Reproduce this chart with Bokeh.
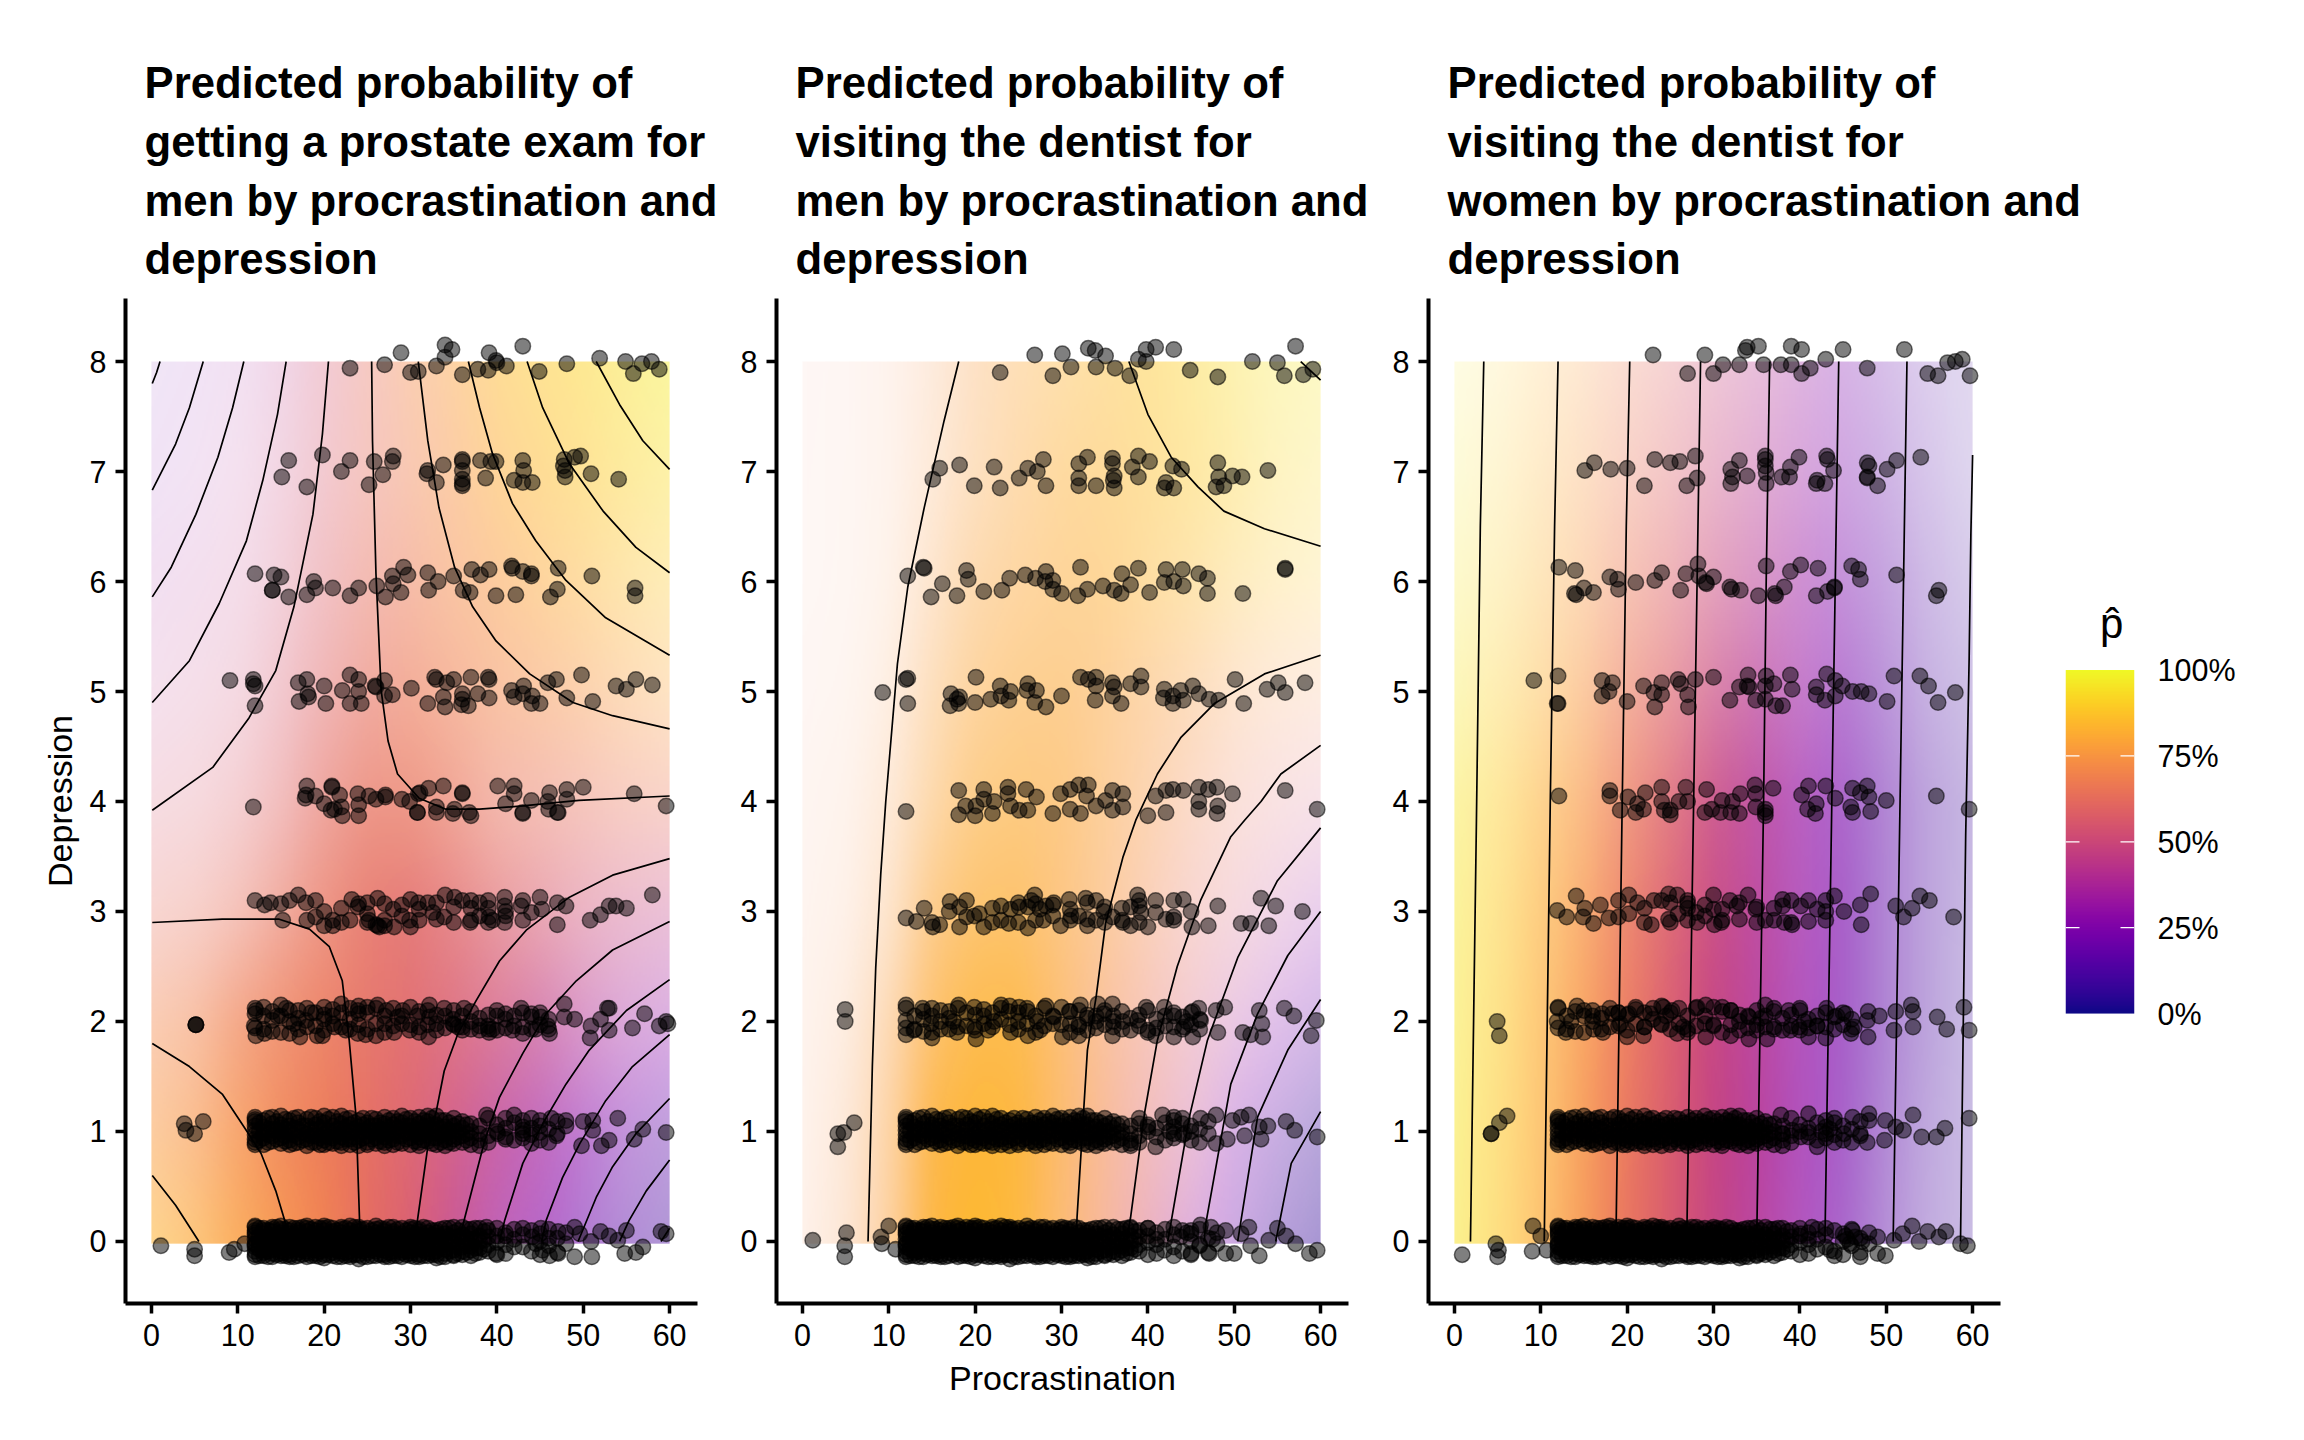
from bokeh.plotting import figure
from bokeh.layouts import row
from bokeh.models import Range1d, FixedTicker, Label, LinearColorMapper, Title
from bokeh.palettes import Plasma256
from bokeh.embed import file_html
from bokeh.resources import INLINE
import numpy as np

GRID_X = [0, 5, 10, 15, 20, 25, 30, 35, 40, 45, 50, 55, 60]
GRID_Y = [8, 7, 6, 5, 4, 3, 2, 1, 0]
TICK_X = [0, 10, 20, 30, 40, 50, 60]
TICK_Y = [0, 1, 2, 3, 4, 5, 6, 7, 8]
LEGEND_TICKS = {0: "0%", 0.25: "25%", 0.5: "50%", 0.75: "75%", 1: "100%"}

TITLES = [
    ["Predicted probability of", "getting a prostate exam for", "men by procrastination and", "depression"],
    ["Predicted probability of", "visiting the dentist for", "men by procrastination and", "depression"],
    ["Predicted probability of", "visiting the dentist for", "women by procrastination and", "depression"],
]

# ---- predicted probability (rows y=8..0, columns x=0..60) ----
prostate_p = [
 [.20,.26,.35,.44,.54,.63,.72,.78,.85,.88,.91,.94,.97],
 [.26,.33,.41,.49,.56,.63,.69,.75,.81,.85,.88,.91,.935],
 [.35,.40,.46,.53,.58,.63,.67,.72,.76,.80,.83,.86,.885],
 [.44,.48,.52,.56,.60,.63,.66,.68,.71,.73,.75,.77,.79],
 [.54,.56,.58,.60,.62,.635,.64,.64,.64,.64,.64,.65,.65],
 [.63,.635,.64,.64,.64,.62,.60,.59,.58,.55,.52,.49,.46],
 [.71,.70,.685,.67,.655,.62,.59,.555,.51,.45,.40,.35,.30],
 [.76,.745,.73,.69,.665,.62,.57,.50,.42,.35,.27,.21,.15],
 [.83,.80,.77,.735,.69,.62,.56,.46,.365,.285,.20,.145,.105],
]
prostate_alpha = [
 [.10,.11,.13,.20,.30,.37,.42,.46,.50,.50,.50,.47,.45],
 [.11,.12,.14,.22,.32,.39,.43,.47,.50,.50,.48,.44,.40],
 [.14,.15,.17,.26,.38,.47,.50,.50,.50,.48,.44,.38,.33],
 [.15,.17,.21,.33,.47,.58,.60,.55,.50,.47,.42,.36,.30],
 [.20,.22,.29,.42,.60,.72,.72,.62,.50,.45,.40,.35,.32],
 [.28,.32,.42,.58,.74,.85,.85,.75,.62,.52,.42,.36,.32],
 [.42,.50,.68,.80,.88,.90,.90,.82,.72,.62,.48,.38,.33],
 [.50,.60,.78,.90,.96,.96,.92,.85,.75,.65,.52,.42,.38],
 [.55,.65,.82,.92,.98,.98,.95,.85,.70,.62,.52,.45,.42],
]
dentist_men_p = [
 [.65,.68,.71,.74,.77,.80,.83,.85,.88,.91,.93,.95,.96],
 [.66,.69,.72,.76,.78,.80,.82,.835,.86,.885,.905,.92,.93],
 [.67,.70,.74,.77,.79,.80,.81,.82,.835,.85,.865,.88,.89],
 [.68,.71,.75,.785,.80,.805,.80,.79,.78,.77,.76,.745,.73],
 [.69,.72,.76,.795,.81,.81,.80,.785,.755,.71,.665,.59,.52],
 [.70,.73,.77,.80,.815,.815,.79,.765,.71,.635,.55,.42,.30],
 [.71,.74,.775,.81,.825,.825,.79,.725,.655,.55,.39,.26,.17],
 [.72,.745,.785,.82,.835,.83,.79,.71,.60,.46,.25,.14,.07],
 [.72,.745,.785,.825,.845,.835,.785,.69,.54,.35,.19,.10,.06],
]
dentist_men_alpha = [
 [.06,.07,.10,.18,.30,.36,.40,.44,.46,.42,.36,.30,.27],
 [.06,.07,.10,.20,.32,.40,.46,.48,.46,.42,.36,.28,.24],
 [.06,.07,.11,.26,.40,.46,.50,.50,.44,.38,.30,.24,.20],
 [.07,.08,.15,.34,.48,.54,.55,.50,.42,.34,.25,.19,.16],
 [.08,.10,.20,.42,.58,.62,.60,.50,.40,.30,.22,.18,.16],
 [.09,.12,.26,.58,.70,.72,.62,.50,.38,.28,.22,.20,.20],
 [.10,.16,.38,.72,.85,.85,.68,.52,.40,.30,.25,.25,.27],
 [.11,.20,.45,.88,.95,.92,.72,.55,.42,.32,.30,.32,.35],
 [.12,.22,.48,.92,.98,.92,.70,.55,.44,.35,.33,.38,.42],
]
dentist_women_p = [
 [.965,.90,.835,.76,.665,.585,.495,.42,.335,.235,.175,.13,.09],
 [.963,.90,.83,.755,.66,.58,.49,.415,.33,.235,.17,.125,.09],
 [.96,.90,.83,.75,.66,.58,.49,.415,.33,.23,.17,.125,.09],
 [.958,.895,.825,.75,.655,.575,.485,.41,.325,.23,.17,.12,.085],
 [.955,.895,.82,.745,.655,.57,.48,.405,.32,.225,.165,.12,.085],
 [.953,.89,.815,.74,.65,.565,.48,.405,.32,.225,.165,.12,.085],
 [.952,.89,.81,.74,.65,.56,.475,.40,.315,.22,.16,.115,.08],
 [.95,.885,.81,.735,.645,.56,.47,.40,.31,.22,.16,.115,.08],
 [.95,.885,.805,.73,.64,.555,.47,.395,.31,.215,.155,.115,.08],
]
dentist_women_alpha = [
 [.13,.15,.20,.23,.26,.28,.30,.31,.32,.30,.25,.19,.15],
 [.18,.20,.26,.30,.33,.36,.38,.39,.38,.35,.30,.22,.17],
 [.24,.26,.33,.38,.44,.47,.50,.50,.48,.43,.36,.27,.21],
 [.32,.35,.42,.50,.58,.62,.66,.66,.56,.52,.42,.31,.25],
 [.42,.45,.55,.64,.74,.80,.85,.80,.67,.60,.48,.36,.29],
 [.46,.50,.62,.74,.85,.90,.92,.84,.69,.63,.48,.36,.28],
 [.48,.54,.66,.82,.92,.95,.96,.86,.71,.63,.48,.36,.27],
 [.50,.56,.68,.86,.95,.97,.97,.88,.72,.62,.46,.34,.27],
 [.52,.58,.70,.88,.96,.97,.96,.86,.70,.60,.44,.33,.27],
]

# ---- contour lines: (procrastination, depression) ----
prostate_contours = [
 [(1,8),(.6,7.9),(.1,7.8)],
 [(6,8),(4.4,7.58),(2.8,7.25),(.1,6.83)],
 [(10.7,8),(9.4,7.58),(7.7,7.13),(5.15,6.61),(2.3,6.13),(.1,5.86)],
 [(15.6,8),(14.6,7.52),(12.9,6.92),(11,6.37),(7.85,5.8),(4.4,5.28),(.1,4.9)],
 [(20.5,8),(19.8,7.34),(18.7,6.61),(16.5,5.77),(14.4,5.19),(11.3,4.76),(7.1,4.31),(.1,3.92)],
 [(25.5,8),(25.6,7.28),(26,6.07),(26.6,5.01),(27.4,4.55),(28.5,4.25),(31,4.03),(34.1,3.93),(38,3.93),(43,3.96),(49.5,4.01),(60,4.05)],
 [(30.9,8),(32,7.28),(33.3,6.67),(35.1,6.13),(37.2,5.77),(39.9,5.46),(43.8,5.16),(48.8,4.9),(53.4,4.78),(60,4.66)],
 [(36.7,8),(38,7.58),(39.5,7.16),(41.8,6.71),(44.5,6.37),(48,6.01),(52.6,5.67),(60,5.33)],
 [(43.5,8),(45.3,7.58),(48.4,7.07),(52.3,6.64),(56.1,6.31),(60,6.08)],
 [(51.5,8),(54.2,7.61),(56.9,7.28),(60,7.02)],
 [(.1,2.9),(8.2,2.93),(14.8,2.93),(18.3,2.84),(20.6,2.68),(22.1,2.37),(22.9,1.83),(23.7,1.13),(24.1,.19),(24.2,0)],
 [(.1,1.8),(4.4,1.59),(8.2,1.34),(10.9,1.02),(12.7,.8),(14.4,.46),(15.4,.2),(16,0)],
 [(.1,.6),(2.8,.33),(5.5,0)],
 [(60,3.48),(53.4,3.33),(48.4,3.13),(43.4,2.83),(40.3,2.55),(37.6,2.19),(35.5,1.89),(33.9,1.55),(33,1.19),(32,.86),(30.8,.19),(30.5,0)],
 [(60,2.91),(53.4,2.65),(49.2,2.37),(45.7,2.07),(43,1.71),(40.3,1.31),(38.6,.92),(36.2,.19),(35.6,0)],
 [(60,2.38),(55,2.1),(50.7,1.74),(48,1.43),(45.3,1.07),(43,.71),(40.9,.19),(40.3,0)],
 [(60,1.88),(55.7,1.59),(52.6,1.28),(49.6,.89),(47.6,.58),(45.7,.19),(45.2,0)],
 [(60,1.3),(56.1,.98),(53.4,.68),(51.5,.4),(49.4,0)],
 [(60,.74),(57.3,.46),(55.3,.19),(54.2,0)],
 [(60,.12),(59,0)],
]
dentist_men_contours = [
 [(18.1,8),(16.4,7.46),(14.1,6.67),(12.2,5.95),(11,5.25),(9.65,4),(9.07,3.34),(8.49,2.49),(8.1,1.6),(7.6,0)],
 [(37.8,8),(40,7.52),(42.7,7.13),(45.8,6.86),(48.8,6.64),(53.5,6.48),(60,6.32)],
 [(57.7,8),(60,7.83)],
 [(60,5.33),(53.5,5.16),(47.7,4.89),(43.8,4.58),(41.1,4.25),(38.6,3.83),(37.1,3.49),(36.3,3.25),(35.1,2.89),(34,2.22),(33,1.74),(31.8,.22),(31.7,0)],
 [(60,4.51),(55.4,4.25),(53.1,4),(51.2,3.83),(49.6,3.68),(46.1,3.1),(43.4,2.5),(41.1,1.83),(39.6,1.16),(38,.22),(37.5,0)],
 [(60,3.76),(55,3.28),(50.4,2.58),(46.9,1.83),(44.8,1.13),(42.3,0)],
 [(60,3),(56.2,2.6),(52.7,2.07),(49.6,1.43),(46.7,.16),(46.5,0)],
 [(60,2.2),(56.2,1.74),(52.7,1.13),(50.4,0)],
 [(60,1.18),(56.6,.71),(54.8,0)],
]
dentist_women_contours = [
 [(3.4,8),(3,6.5),(2.55,3.83),(1.86,0)],
 [(12,8),(11.6,6.5),(11.1,4),(10.4,0)],
 [(20.3,8),(19.9,6.5),(19.4,3.83),(18.7,0)],
 [(28.5,8),(28.1,6),(27.7,4),(26.9,0)],
 [(36.5,8),(36.1,6),(35.8,4),(35,0)],
 [(44.5,8),(44.1,6),(43.7,4),(42.9,0)],
 [(52.4,8),(52,6),(51.6,4),(50.8,0)],
 [(60,7.15),(59.8,6.43),(59.6,5.3),(59.2,3.7),(58.6,0)],
]

# ---- jittered respondents, dense centre of the lowest rows (shared) ----
dense_row0 = {
 12:[.14,.1,.06,.02,-.02,-.05,-.09,-.12,-.14,.13,.08,-.03], 13:[.12,.07,.03,-.01,-.06,-.1,-.13,.04,-.08,.1],
 14:[.13,.09,.05,-.03,-.07,-.11,-.14,.01,-.05,.11], 15:[.14,.08,.03,-.02,-.06,-.09,-.13,.11,-.11,.05],
 16:[.13,.1,.04,0,-.04,-.08,-.12,-.14,.07,-.02], 17:[.12,.08,.02,-.03,-.07,-.1,-.13,.05,.1,-.05],
 18:[.14,.09,.05,.01,-.05,-.09,-.14,.12,-.11,-.02], 19:[.13,.07,.03,-.02,-.06,-.11,-.13,.1,-.08,.05],
 20:[.14,.1,.06,0,-.04,-.08,-.12,-.15,.12,-.02], 21:[.12,.09,.04,-.03,-.07,-.1,-.13,.07,.01,-.05],
 22:[.13,.08,.02,-.02,-.06,-.11,-.14,.11,.05,-.09], 23:[.14,.1,.05,.01,-.05,-.09,-.12,.07,-.02,-.14],
 24:[.13,.09,.03,-.03,-.08,-.12,-.16,.11,.06,-.05], 25:[.12,.07,.02,-.04,-.07,-.1,-.14,.05,-.01],
 26:[.14,.08,.04,-.01,-.06,-.09,-.13,.11,-.03], 27:[.11,.06,.01,-.04,-.08,-.12,-.14,.09,.03],
 28:[.13,.09,.03,-.02,-.06,-.11,-.13,.07,-.09], 29:[.12,.07,.02,-.03,-.08,-.1,-.14,.05,-.05],
 30:[.13,.08,.04,-.01,-.05,-.09,-.13,.11,-.11], 31:[.11,.06,.01,-.04,-.07,-.12,-.14,.09],
 32:[.12,.08,.03,-.02,-.06,-.1,-.13,.05], 33:[.1,.05,0,-.05,-.09,-.12,-.15,.08],
 34:[.12,.07,.02,-.03,-.07,-.11,-.14], 35:[.13,.08,.03,-.02,-.08,-.12,-.13],
 36:[.13,.06,.01,-.05,-.09,-.12], 37:[.11,.07,.02,-.04,-.08,-.13], 38:[.12,.05,0,-.06,-.1], 39:[.1,.04,-.03,-.09],
 40:[.12,.05,-.01,-.12],
 12.5:[.12,.05,-.01,-.07,-.13], 13.5:[.1,.04,-.03,-.09,-.14], 14.5:[.13,.06,0,-.06,-.12], 15.5:[.11,.03,-.04,-.1,-.13],
 16.5:[.12,.06,-.01,-.07,-.14], 17.5:[.13,.04,-.02,-.08,-.12], 18.5:[.11,.05,0,-.06,-.13], 19.5:[.12,.06,-.02,-.09,-.14],
 20.5:[.13,.03,-.03,-.07,-.12], 21.5:[.1,.05,-.01,-.08,-.14], 22.5:[.12,.04,-.04,-.1,-.13], 23.5:[.13,.06,0,-.06,-.12],
 24.5:[.11,.03,-.02,-.09,-.14], 25.5:[.1,.05,-.03,-.08,-.13], 26.5:[.12,.06,-.01,-.07,-.12], 27.5:[.13,.04,-.04,-.1,-.14],
 28.5:[.11,.05,0,-.06,-.13], 29.5:[.1,.03,-.02,-.09,-.12], 30.5:[.12,.06,-.03,-.07,-.14], 31.5:[.13,.04,-.01,-.08,-.13],
 32.5:[.1,.05,-.04,-.1,-.12], 33.5:[.11,.03,-.02,-.06,-.14], 34.5:[.12,.05,-.01,-.09], 35.5:[.1,.04,-.05,-.11],
 36.5:[.11,.03,-.03,-.1], 37.5:[.12,.02,-.06,-.11], 38.5:[.09,.01,-.07],
 41:[.08,-.03,-.11], 42:[.11,.02], 43:[.06,-.05], 44:[.1,-.09], 45:[.07,0,-.12], 46:[.11,-.04], 47:[.03,-.1], 48:[.08,-.02],
}
dense_row1 = {
 12:[1.13,1.09,1.05,1.01,.97,.93,.88,1.11,.9], 13:[1.1,1.04,.99,.94,.88], 14:[1.13,1.07,1.02,.96,.91],
 15:[1.14,1.06,1,.94,.89,1.03], 16:[1.1,1.05,.99,.92,.88], 17:[1.13,1.08,1.02,.95,.9], 18:[1.11,1.05,.98,.93,.87],
 19:[1.12,1.06,1.01,.96,.9], 20:[1.14,1.08,1.03,.97,.92,.88], 21:[1.13,1.05,1,.94,.89], 22:[1.14,1.07,1.02,.95,.9,.87],
 23:[1.12,1.06,1,.93,.88], 24:[1.1,1.04,.98,.92,.87], 25:[1.08,1.02,.96,.9,.88], 26:[1.11,1.05,1,.94,.89],
 27:[1.13,1.07,1.01,.95,.9,.87], 28:[1.12,1.06,.99,.93,.88], 29:[1.14,1.08,1.02,.96,.89], 30:[1.12,1.05,1,.94,.88],
 31:[1.13,1.07,1.01,.95,.9,.87], 32:[1.14,1.09,1.03,.97,.91], 33:[1.14,1.06,1,.94,.88], 34:[1.1,1.04,.98,.92,.87],
 35:[1.12,1.05,1,.93,.89], 36:[1.09,1.03,.96,.9], 37:[1.07,1,.94,.88], 38:[1.05,.98,.92,.87],
 12.5:[1.08,1,.92], 13.5:[1.12,1.02,.97,.9], 14.5:[1.09,1,.93], 15.5:[1.11,1.02,.96,.91], 16.5:[1.12,1.03,.97,.89],
 17.5:[1.05,.99,.92], 18.5:[1.13,1.02,.96,.9], 19.5:[1.09,1.03,.94,.88], 20.5:[1.11,1,.95,.9], 21.5:[1.09,1.02,.97,.91],
 22.5:[1.11,1.04,.98,.93], 23.5:[1.08,1.02,.95,.9], 24.5:[1.12,1.06,1,.94], 25.5:[1.12,1.05,.99,.93], 26.5:[1.08,1.02,.97,.91],
 27.5:[1.1,1.04,.98,.92], 28.5:[1.09,1.03,.96,.9], 29.5:[1.11,1.05,.99,.93], 30.5:[1.09,1.02,.97,.91], 31.5:[1.1,1.04,.98,.92],
 32.5:[1.12,1.06,1,.94,.89], 33.5:[1.1,1.03,.97,.9], 34.5:[1.08,1.01,.95,.9], 35.5:[1.07,1,.95], 36.5:[1.06,.98,.92],
 39:[1.12,.96,.9], 40:[1.06,1], 41:[1.03,.95], 42:[1.08,.92], 43:[1.1,1.04,.94], 44:[1.12,.97], 45:[1.05,.92], 46:[1.02,.9], 47:[1.09,.98],
}
dense_row2 = {
 12:[2.12,1.94], 13:[2.05,1.93], 14:[2.09,1.91], 15:[2.05,1.9], 16:[2.1,2], 17:[2.03,1.93], 18:[2.12,1.95], 19:[2.08,1.96],
 20:[2.06,1.92], 21:[2.11,1.98], 22:[2.08,1.95], 23:[2.12,2.02], 24:[2.14,1.97], 25:[2.08,1.93], 26:[2.12,1.98], 27:[2.05,1.9],
 28:[2.12,1.96], 29:[2.05,1.98], 30:[2.13,1.97], 31:[2.09,1.9], 32:[2.1,1.97], 33:[2.06,1.92], 34:[2.05,1.94], 35:[2.1,1.97],
 36:[2.05,1.95], 37:[2.09,1.93], 38:[2.03,1.92], 39:[2.06,1.96], 40:[2.1,1.92], 41:[2.02,1.94], 42:[2.05,1.96], 43:[2.08,1.95],
 44:[2.04,1.93], 45:[2.08,1.97], 46:[2.02,1.93],
}
dense_row3 = {
 19:[3.1,2.95], 22:[3.03,2.9], 25:[3.08,2.9], 27:[3.07,2.92], 29:[3.06,2.96], 31:[3.02,2.92], 33:[3.08,2.93], 35:[3.04,2.9], 37:[3.03,2.92],
 39:[3.1,2.9], 43:[3.1,2.92],
}

# ---- prostate panel ----
prostate_row8 = [(28.9,8.08),(34,8.15),(34.8,8.11),(34,8.04),(39.1,8.08),(43,8.14),(39.9,8.01),(40,7.99),(48.1,7.98),(51.9,8.03),(54.9,8),(56.8,7.98),(57.9,8),(58.8,7.93),(55.8,7.89),(44.9,7.91),(41.1,7.96),(39,7.92),(37.8,7.93),(36,7.88),(33,7.96),(30.9,7.91),(30,7.9),(27,7.97),(23,7.94)]
prostate_row7 = [(15.9,7.1),(19.8,7.15),(15.1,6.95),(18,6.86),(22,7),(23,7.1),(25.8,7.09),(28,7.14),(27.9,7.09),(26.8,6.97),(25.2,6.88),(32,7.01),(31.9,6.98),(33.8,7.06),(33,6.9),(36,7.11),(36,7.09),(36,7.01),(36,6.93),(36,6.89),(36,6.87),(38.1,7.1),(39.3,7.09),(39.9,7.09),(43,7.1),(43.1,7.01),(38.7,6.94),(42,6.92),(43,6.9),(44.1,6.9),(47.8,7.11),(47.7,7.05),(47.9,7.01),(47.9,6.95),(49,7.13),(49.7,7.14),(50.9,6.98),(54.1,6.93)]
prostate_row6 = [(12,6.07),(14.2,6.06),(15,6.04),(14,5.92),(14,5.92),(15.9,5.86),(18,5.88),(18.8,6),(19,5.94),(21,5.94),(23,5.87),(24,5.94),(26.1,5.96),(27.1,5.86),(27.9,6.05),(28,5.98),(28.9,5.9),(29.2,6.13),(29.7,6.06),(32,6.08),(32.1,5.92),(33.2,6),(35,6.05),(36.1,5.92),(36.9,5.9),(37.1,6.11),(38.1,6.06),(39.1,6.11),(39.9,5.87),(41.7,6.14),(41.8,6.12),(43,6.09),(44,6.07),(44,6.05),(42.2,5.88),(46.2,5.86),(47,5.93),(47.1,6.12),(51,6.05),(56,5.94),(56,5.87)]
prostate_row5 = [(9.1,5.1),(11.8,5.11),(11.8,5.07),(12,5.05),(12,4.87),(17,5.08),(18,5.11),(18.1,4.98),(18.2,4.95),(17.1,4.91),(20,5.05),(20.2,4.89),(22.1,5.01),(23,5.15),(24,5.11),(24,5),(23,4.89),(24.3,4.89),(25.9,5.05),(26,5.04),(27,5.1),(27,4.96),(27.9,4.97),(30.1,5.03),(32.8,5.13),(33,5.11),(34.2,5.08),(35,5.11),(37,5.13),(39,5.13),(39.1,5.11),(33.8,4.95),(32,4.89),(34,4.86),(36,4.98),(36,4.93),(35.9,4.88),(36.7,4.87),(37.8,4.98),(39.1,4.94),(41.7,5.01),(42,4.95),(43.1,5.05),(43,4.98),(44.1,4.96),(44,4.89),(45,4.89),(45.9,5.08),(46.9,5.11),(48.1,4.94),(49.8,5.15),(51.1,4.91),(53.8,5.05),(55,5.02),(56.1,5.11),(58,5.06)]
prostate_row4 = [(11.8,3.95),(18,4.14),(17.9,4.06),(17.8,4.03),(19,4.05),(20.9,4.14),(20.9,4.13),(21.8,4.06),(20,3.98),(20.8,3.92),(22,3.95),(23.9,4.07),(24,3.97),(25.2,4.05),(26,4.02),(27.1,4.06),(27.1,4.04),(29,4.02),(29.9,4),(30.9,4.07),(31.1,4.08),(32.1,4.12),(33.8,4.14),(30.8,3.9),(33,3.95),(36,4.07),(36,4.08),(35.1,3.93),(36.8,3.9),(40.1,4.14),(42,4.14),(42,4.07),(41,3.98),(43,3.9),(44,4.01),(45.9,4),(46.1,4.08),(48.1,4.11),(48.1,4.02),(47.1,3.9),(50,4.13),(55.9,4.07),(59.6,3.96),(21.2,3.93),(22.1,3.87),(24,3.87),(30.8,3.9),(33,3.9),(34.9,3.89),(37,3.87),(43,3.89),(47,3.9),(46,3.93)]
prostate_row3 = [(12,3.1),(13.1,3.06),(13.8,3.08),(15,3.07),(16,3.1),(17,3.15),(17.9,3.08),(20,3),(15.2,2.92),(18,2.92),(20,2.87),(21,2.87),(21,2.92),(23,2.92),(23.2,3.11),(24,3.07),(23.9,3.04),(25,2.98),(26.2,3.12),(25.2,2.92),(26.2,2.87),(27,2.87),(28,3.02),(28.1,2.86),(29.9,2.92),(30,2.86),(30,3.11),(30.9,3.08),(32,3.08),(32.6,2.99),(33.9,2.95),(34,3.15),(35.1,3.13),(36,3.1),(37,3.1),(38,3.08),(38,2.96),(36.9,2.9),(39.1,2.95),(40.9,3.13),(40.9,3.05),(41,2.96),(40.9,2.9),(42.8,3.05),(44,2.99),(45,3.13),(45.2,3.02),(47,3.08),(48,3.05),(47,2.88),(50.8,2.92),(52,2.97),(53,3.05),(53.8,3.05),(55,3.03),(58,3.15),(26,2.88),(26.4,2.86),(39,3.03),(39.5,2.92),(41,3)]
prostate_row2 = [(5.15,1.97),(5.15,1.97),(5.15,1.97),(12.1,2.1),(12,2.07),(13,2.13),(11.9,1.96),(14,2.01),(15,2.15),(12.1,1.87),(13.1,1.89),(16,1.89),(15.6,2.12),(17,2.1),(17.9,2.01),(17.2,1.86),(19.2,1.87),(20,2.13),(21,2.05),(20,2.02),(21.2,1.95),(19.8,1.87),(22,2.16),(23.9,2.1),(24,2.07),(23,1.93),(23.9,1.89),(25,2.13),(26,1.87),(27.2,2.1),(27,1.98),(28.1,1.9),(29.1,2.1),(29.9,1.92),(30.8,2.05),(32.2,2.15),(32.2,2.04),(32.1,1.86),(33.9,2.12),(34.9,2.02),(34.9,1.98),(36.2,2.12),(37,2),(36,1.92),(39,1.93),(39.1,1.9),(39.5,1.93),(41,2.07),(41.8,1.92),(42.8,2.12),(43,1.89),(44,2.07),(45.1,2.04),(46.1,1.89),(45.9,1.96),(47.8,2.16),(47.8,2.04),(49,2.02),(50.9,1.96),(50.8,1.85),(52,2.02),(52.8,2.12),(53,2.12),(53,1.92),(55.7,1.94),(57.1,2.07),(58.8,1.96),(59.6,2),(59.8,1.98),(14.6,2.05),(16.5,1.98),(18.5,2.08),(22.5,1.92),(24.8,1.88),(26.2,2.15),(28.5,2.04),(31,1.95),(33,1.98),(35.5,1.95),(38,1.96),(40,2.05),(44.5,1.93)]
prostate_row1 = [(3.8,1.07),(4,1.01),(5,.98),(6,1.09),(38.8,1.15),(40.1,.98),(41,1.12),(42,1.15),(41,.93),(43,1.01),(44,.89),(45,1.1),(46.3,1.12),(46.9,.96),(48,1.1),(48,1.05),(49.8,.87),(50,1.09),(51.1,1.1),(51.1,1.01),(52.1,.87),(53,.92),(54,1.12),(55.9,.93),(56.9,1.02),(59.6,.99),(44,1.03),(45,.99),(43,.98)]
prostate_row0 = [(38.8,.13),(39.9,-.11),(42,-.05),(43,.12),(44.1,.04),(45.1,.12),(45.3,-.08),(46.1,-.13),(47.1,-.11),(47.1,.09),(49,.13),(49,-.14),(49.6,.07),(50.9,0),(51,-.14),(52,.09),(53,.05),(54,.01),(54.8,-.11),(55,.1),(56.1,-.1),(56.9,-.05),(59,.09),(59.6,.07),(1.1,-.04),(5,-.07),(5,-.13),(9,-.1),(9.6,-.07),(10.8,-.02),(41,.05),(44.5,-.02),(46,.03)]

# ---- dentist / men panel ----
dentist_men_row8 = [(26.9,8.06),(30.1,8.07),(33.1,8.12),(33.9,8.1),(35.1,8.05),(38.9,8.02),(39.8,8.11),(40.9,8.13),(43,8.11),(39.8,8),(57.1,8.14),(22.9,7.9),(29,7.87),(31.1,7.95),(34,7.95),(36.2,7.94),(37.9,7.87),(44.9,7.92),(48.1,7.86),(52.1,8),(55,7.99),(55.8,7.87),(58,7.88),(59.1,7.93)]
dentist_men_row7 = [(15.9,7.03),(15.1,6.93),(18.2,7.06),(19.9,6.87),(22.2,7.04),(22.9,6.85),(25.1,6.94),(26.1,7.03),(27.2,7),(27.9,7.11),(28.2,6.87),(32,7.07),(33,7.13),(32,6.94),(32,6.87),(34,6.87),(35.9,7.12),(35.9,7.07),(36.1,6.96),(36,6.92),(36.1,6.85),(38.2,7.04),(38.9,7.14),(38.9,6.95),(40.2,7.09),(41.9,6.85),(42.1,6.9),(43,6.85),(42.9,7.05),(43.9,7.02),(48.1,7.08),(48.2,6.95),(47.9,6.86),(48.8,6.87),(49.8,6.96),(50.9,6.95),(53.9,7.01)]
dentist_men_row6 = [(12.2,6.05),(14,6.13),(14.1,6.12),(14.9,5.86),(16.2,5.98),(17.9,5.87),(19,6.1),(19.2,6.02),(21,5.91),(23.1,5.92),(24,6.03),(25.8,6.06),(27,6.03),(28.2,6.09),(28.1,6),(29,6.01),(29,5.93),(30,5.89),(31.9,5.87),(32.2,6.13),(33,5.93),(34.8,5.96),(36.1,5.92),(36.9,5.89),(37,6.07),(38,5.97),(38.9,6.12),(40.2,5.9),(41.9,5.99),(42.1,6.11),(43,6),(44,6.11),(44.1,5.96),(45.9,6.07),(46.9,6.03),(46.9,5.89),(51,5.89),(55.9,6.12),(55.9,6.11)]
dentist_men_row5 = [(9.3,4.99),(12.2,5.12),(12,5.11),(12.2,4.89),(17.2,4.98),(17.1,4.87),(17.9,4.93),(18.1,4.89),(18.2,4.95),(20.1,5.13),(20,4.9),(21.8,4.93),(22.9,5.05),(23,4.96),(23.9,4.92),(24.1,5),(26.1,5.07),(26,5.01),(27.1,5.01),(26.9,4.9),(28.2,4.86),(30,4.96),(32.2,5.13),(33.1,5.11),(34,5.13),(34,5.05),(33.9,4.92),(35.9,5.08),(36.1,5.04),(35.9,4.96),(36.9,4.89),(38,5.07),(39.2,5.14),(39.2,5.04),(41.9,5.02),(41.8,4.94),(42.9,4.96),(42.9,4.89),(43.8,5.01),(44.1,4.92),(45.2,5.05),(45.9,4.98),(47.1,4.93),(48.2,4.92),(50.1,5.11),(51.1,4.89),(53.8,5.02),(55.1,5.08),(55.9,4.99),(58.2,5.08)]
dentist_men_row4 = [(18.1,4.1),(21,4.11),(23.8,4.13),(23.8,4.07),(25.9,4.11),(27.1,4.04),(29.9,4.07),(31,4.11),(32,4.15),(33.1,4.15),(32.9,4.05),(35.1,4.01),(35.9,4.1),(37.1,4.07),(18.9,3.96),(20.1,3.96),(21,4.02),(22.2,4),(24.1,3.96),(25.1,3.92),(26.1,3.92),(18.1,3.88),(20,3.87),(22,3.89),(29,3.89),(31,3.93),(32.2,3.89),(34,3.96),(35.9,3.92),(37.1,3.95),(40,3.87),(40.9,4.05),(42.1,4.1),(42.9,4.11),(44.1,4.1),(45.9,4.13),(47,4.11),(48,4.13),(49.8,4.07),(45.9,4),(45.9,3.93),(48.1,3.96),(48,3.89),(42.1,3.9),(55.9,4.1),(59.6,3.93),(12,3.91)]
dentist_men_row3 = [(12,2.94),(13.2,2.91),(14.1,3.03),(15,2.9),(15.1,2.86),(15.9,2.88),(17.1,3.09),(17,3),(18.2,3.04),(18.2,2.86),(19.9,2.96),(20.5,2.98),(21,2.86),(23,3.05),(23,2.92),(23.9,2.89),(24.1,3.02),(25.1,3.04),(26.1,3.04),(26.9,3.15),(26.1,2.85),(27.9,2.92),(28.2,3.05),(29.1,3.08),(29.9,2.87),(30.9,3.11),(31.1,2.96),(32,2.96),(33,2.87),(32.8,3.12),(34,3.1),(34,2.92),(34.9,3),(35.9,2.95),(37.1,2.9),(38,3.04),(38,2.87),(38.8,3.15),(39.2,2.99),(40,2.86),(40.9,3.1),(40.9,2.99),(42.1,2.93),(43,2.95),(44.1,3.11),(45,3),(45.1,2.86),(47,2.87),(48.1,3.05),(50.8,2.89),(51.9,2.89),(53.1,3.12),(54,2.87),(54.8,3.05),(57.9,3),(27.5,3.02),(26.5,3.1),(39,3.05)]
dentist_men_row2 = [(4.95,2.11),(4.95,2),(12,2.15),(12,2.01),(12.9,1.92),(12,1.88),(13.9,2.12),(15,2.12),(14.9,1.98),(15,1.85),(16,1.93),(17,2.09),(17.9,1.9),(18.1,2.15),(19.9,2.13),(21,2.05),(19.9,1.95),(20.1,1.84),(22.2,2),(23,2.15),(23.9,2.09),(24.1,1.9),(26.1,1.87),(25.1,2.13),(26.1,2.09),(27.2,2),(28.2,2.14),(29.1,2.04),(30.1,1.86),(30.9,2.09),(32.2,2.15),(32,1.95),(32,1.87),(34.2,2.16),(34,2),(34.9,2.07),(35.9,2.16),(35.9,1.87),(37.1,2),(38.8,2.01),(39.8,2.13),(40,1.9),(40.9,1.87),(41.9,2.13),(43,2.05),(43,1.86),(44.2,1.95),(45.2,2.09),(45.2,1.86),(45.9,2.12),(46.1,2.01),(47.9,2.1),(48.9,2.13),(48.1,1.9),(51,1.9),(51.9,1.88),(52.9,2.1),(53.2,1.98),(53.3,1.86),(55.8,2.12),(56.9,2.05),(58.9,1.87),(59.5,2.01),(14,2.02),(17.5,2),(21.5,1.92),(25,2),(27.5,1.92),(31,1.98),(33,2.03),(36,2),(44.5,2)]
dentist_men_row1 = [(6,1.08),(4.8,.99),(4.1,.98),(4.1,.86),(39,1.07),(38,.89),(40,1.04),(40.9,.86),(41.7,1.15),(43,1.13),(43,.98),(44,1.07),(44.2,.98),(46.1,1.12),(47.9,1.15),(47.9,.89),(49.2,.93),(49.8,1.1),(50.8,1.13),(51.2,.96),(51.7,1.15),(52.9,1.04),(53.1,.93),(53.9,1.05),(56,1.09),(57,1.01),(59.6,.95),(42.5,1),(45,1)]
dentist_men_row0 = [(1.2,.01),(5.1,.08),(4.9,-.04),(4.9,-.14),(9.1,.04),(9.2,-.02),(10,.14),(10.8,-.07),(38,.13),(40,.12),(43,.13),(43,-.13),(41.9,-.08),(43.8,.04),(45,.1),(45,-.11),(46.1,.15),(47.1,-.11),(47.3,.13),(49,.1),(49,-.11),(50,-.11),(50.8,.07),(51.7,.13),(52.9,-.13),(51.9,-.04),(54,.01),(55,.12),(56,.05),(57.1,-.02),(58.7,-.11),(59.6,-.08),(41,.02),(44.5,.08),(46,-.03),(47.5,.02)]

# ---- dentist / women panel ----
dentist_women_row8 = [(23,8.06),(29,8.06),(33.7,8.1),(33.9,8.13),(35.2,8.14),(39,8.14),(40.2,8.11),(45,8.11),(52.1,8.11),(57.1,7.99),(58,8),(58.8,8.02),(27,7.89),(30,7.89),(31.1,7.97),(33,7.97),(35.8,7.97),(37.8,7.97),(39,7.97),(40.2,7.89),(41.2,7.94),(43,8.02),(47.8,7.94),(54.8,7.89),(56,7.87),(59.7,7.87)]
dentist_women_row7 = [(16.2,7.08),(15.1,7.01),(18.1,7.02),(20,7.03),(22,6.87),(23.2,7.11),(25,7.08),(26.1,7.09),(27.9,7.14),(28.1,6.94),(26.9,6.87),(32,7.02),(33,7.1),(32.2,6.95),(32,6.89),(33.9,6.96),(36,7.14),(36,7.11),(36,7.05),(36.1,6.99),(36.1,6.89),(37.9,6.95),(38.9,7.04),(38.8,6.95),(39.9,7.13),(43.1,7.14),(43.2,7.11),(43.9,7.01),(42,6.92),(41.9,6.89),(42.9,6.89),(47.8,7.08),(48,7.05),(47.8,6.95),(47.8,6.94),(49,6.87),(50.1,7.02),(51.2,7.1),(54,7.13)]
dentist_women_row6 = [(12.1,6.13),(14,6.1),(15,5.94),(13.9,5.89),(14.1,5.88),(16.1,5.9),(18,6.04),(18.9,6.02),(19,5.93),(21,5.99),(23.2,6.01),(24,6.08),(26.2,5.92),(26.8,6.07),(28.2,6.16),(28.3,6.05),(29.1,5.99),(29.2,5.98),(30,6.04),(31.9,5.95),(32.1,5.93),(33.1,5.92),(35.2,5.87),(36.1,6.14),(37.1,5.89),(37.2,5.87),(38.2,5.95),(38.9,6.09),(40.1,6.15),(42.1,6.12),(41.9,5.87),(43.2,5.91),(44,5.94),(44,5.95),(46,6.14),(46.8,6.11),(47,6.02),(51.2,6.06),(56.1,5.92),(55.8,5.87)]
dentist_women_row5 = [(9.2,5.1),(12,5.14),(12,4.89),(11.9,4.89),(17.1,5.1),(18.3,5.08),(17.9,5),(17.1,4.96),(20,4.91),(21.9,5.05),(23.1,4.99),(24,5.08),(24,4.97),(23.2,4.86),(25.9,5.11),(26.2,5.07),(27,4.97),(27.1,4.86),(27.9,5.11),(30,5.13),(31.9,4.92),(33,5.04),(33.9,5.05),(34,5.15),(34.1,5.04),(34.9,4.92),(36.1,5.14),(36,5.05),(37,5.07),(36,4.93),(37.2,4.87),(38,4.87),(38.9,5.15),(39.1,5.02),(41.9,5.04),(41.9,4.97),(42.9,4.92),(43.1,5.16),(44.1,5.1),(44.1,4.96),(44.9,5.05),(46.1,5),(47.1,5),(48,4.98),(50.1,4.91),(50.9,5.14),(53.9,5.14),(54.9,5.05),(56,4.9),(58,4.99)]
dentist_women_row4 = [(12.1,4.05),(18,4.1),(18,4.05),(19.2,3.92),(20.1,4.04),(21.2,3.98),(22.1,4.08),(21.9,3.93),(24,4.13),(24,4),(24.3,3.92),(25,3.92),(26,4),(26.8,4.13),(27,4),(29.2,4.11),(29.8,3.93),(31,4.01),(30.8,3.9),(32.2,4),(33.1,4.07),(33,3.89),(34.8,4.15),(34.9,4.07),(34.9,3.95),(36,3.93),(36.9,4.12),(36,3.87),(40.2,4.06),(41,4.14),(43,4.14),(41.9,3.98),(40.9,3.93),(41.8,3.89),(44.1,4.03),(46.1,4.12),(47,4.08),(47.8,4.14),(48,4.04),(45.9,3.95),(46.1,3.9),(48.2,3.91),(50,4.01),(55.8,4.05),(59.6,3.93),(21,3.9),(25,3.88),(29,3.9),(32,3.9),(36,3.9)]
dentist_women_row3 = [(14.1,3.14),(11.9,3.01),(13,2.95),(15.1,3.03),(14.9,2.95),(16.1,2.89),(16.9,3.06),(17.9,2.94),(20.2,3.15),(20.2,2.98),(21.2,3.08),(22.8,2.88),(23.1,3.1),(24,3.1),(24.8,3.16),(25.8,3.15),(25.9,2.98),(24.8,2.93),(27,3.1),(28,2.99),(28.1,2.9),(30,3.15),(30.1,2.88),(30.9,2.9),(30,3.02),(31.9,3.1),(32.7,3.05),(34,3.15),(34.9,3.02),(36,2.92),(38,3.11),(38.2,2.9),(39.1,2.88),(40.1,3.05),(41,3.1),(41,2.91),(43,3),(44,3.14),(45.1,3),(47,3.06),(47.1,2.88),(48.2,3.16),(51.1,3.05),(52,2.95),(53,3.03),(53.9,3.14),(55,3.1),(57.8,2.95),(27,3.03),(38,3.05),(42,3.02)]
dentist_women_row2 = [(4.95,2),(5.2,1.87),(12,2.13),(11.9,2),(12.9,1.9),(14.2,2.14),(15,2.1),(16.1,1.93),(17.1,2.07),(17.2,1.9),(18.3,2.07),(19.2,1.98),(20,1.86),(21,2.13),(20.2,2.07),(21.9,1.87),(22.7,2.07),(24.2,2.13),(23.9,1.98),(25.8,1.89),(25.2,2.1),(27,1.93),(28.1,2.13),(29.1,2.15),(29.1,1.86),(31,2.13),(32,2.1),(32,1.87),(34.1,2.04),(34.1,1.84),(35,1.92),(36,2.15),(36.2,1.84),(37,2.12),(37,1.95),(38.7,2.1),(38.9,1.92),(40,2.12),(39.9,1.95),(41,1.86),(42,1.96),(43.1,2.12),(43,1.85),(44.3,2.05),(45.3,2.07),(46.3,1.95),(45.9,1.89),(47.9,2.09),(47.8,2.01),(47.9,1.86),(49.2,2.05),(50.9,1.92),(51.1,2.09),(52.9,2.15),(53.1,2.09),(53.1,1.95),(55.9,2.04),(57,1.93),(59,2.13),(59.6,1.92),(13.5,2),(16,2.05),(19,2.08),(22,1.95),(24.5,2.05),(26.5,1.95),(30,1.96),(33,2),(35.5,2.03),(40.5,2)]
dentist_women_row1 = [(6.1,1.14),(5.2,1.08),(4.25,.98),(4.25,.98),(37.8,1.15),(38,.98),(39.1,1.01),(40.1,.95),(41,1.16),(41,.99),(42,.86),(43,.98),(44,.9),(44,1.08),(45.1,.98),(46.1,1.13),(47,.96),(48,1.16),(48,1.1),(47.8,.9),(49.9,1.1),(49.8,.92),(51.1,1.04),(52,1.01),(53.1,1.15),(54.1,.95),(55.8,.95),(56.8,1.03),(59.6,1.12),(42.5,1),(43.5,1.02)]
dentist_women_row0 = [(.9,-.12),(4.8,-.02),(5.1,-.08),(5,-.14),(9.1,.14),(10,.05),(9,-.09),(10.7,-.08),(40.1,.07),(41.4,.13),(42,-.07),(43,.12),(44,-.13),(45.3,.05),(46.1,.1),(47,-.14),(47.2,0),(49,.04),(49,-.11),(49.9,-.13),(50.9,.01),(51.9,.07),(53,.14),(53.8,0),(54.8,.09),(56.1,.04),(56.9,.09),(58.6,-.02),(59.4,-.04),(45.5,.02),(45.8,-.02),(46.4,.04),(41,.02),(43.5,-.08)]

PANELS = [
    (prostate_p, prostate_alpha, prostate_contours,
     [prostate_row0, prostate_row1, prostate_row2, prostate_row3, prostate_row4, prostate_row5, prostate_row6, prostate_row7, prostate_row8]),
    (dentist_men_p, dentist_men_alpha, dentist_men_contours,
     [dentist_men_row0, dentist_men_row1, dentist_men_row2, dentist_men_row3, dentist_men_row4, dentist_men_row5, dentist_men_row6, dentist_men_row7, dentist_men_row8]),
    (dentist_women_p, dentist_women_alpha, dentist_women_contours,
     [dentist_women_row0, dentist_women_row1, dentist_women_row2, dentist_women_row3, dentist_women_row4, dentist_women_row5, dentist_women_row6, dentist_women_row7, dentist_women_row8]),
]

FONT = "Liberation Sans"
TOTAL_H = 1400
plasma = np.array([[int(c[i:i+2], 16) for i in (1, 3, 5)] for c in Plasma256], dtype=float)


def soften(a, kx=13, ky=24):
    """Hann-window softening so the hand-read grid shows no creases."""
    out = a.copy()
    for axis, k in ((1, kx), (0, ky)):
        w = np.hanning(2 * k + 3)[1:-1]
        w = w / w.sum()
        pad = [(0, 0), (0, 0)]
        pad[axis] = (k, k)
        padded = np.pad(out, pad, mode="reflect", reflect_type="odd")
        out = np.apply_along_axis(lambda v: np.convolve(v, w, mode="valid"), axis, padded)
    return out


def smooth(grid, nx=260, ny=440):
    """Display smoothing of a hand-read grid, as the original raster does."""
    g = np.array(grid, dtype=float)[::-1]
    ys = np.array(GRID_Y[::-1], dtype=float)
    xs = np.array(GRID_X, dtype=float)
    ox, oy = np.linspace(0, 60, nx), np.linspace(0, 8, ny)
    tmp = np.array([np.interp(oy, ys, g[:, j]) for j in range(len(xs))]).T
    return soften(np.array([np.interp(ox, xs, r) for r in tmp]))


def surface(p_grid, a_grid):
    p, a = smooth(p_grid), smooth(a_grid)
    idx = np.clip((p * 255).round().astype(int), 0, 255)
    rgb = plasma[idx]
    img = np.zeros(p.shape, dtype=np.uint32)
    view = img.view(dtype=np.uint8).reshape((p.shape[0], p.shape[1], 4))
    view[..., :3] = rgb.astype(np.uint8)
    view[..., 3] = (np.clip(a, 0, 1) * 255).round().astype(np.uint8)
    return img


def make_panel(i):
    p_grid, a_grid, contours, rows = PANELS[i]
    left = [125, 56, 57][i]
    right = [23, 23, 88][i]
    p = figure(width=left + 572 + right, height=TOTAL_H, min_border_left=left, min_border_right=right,
               min_border_top=298, min_border_bottom=97, output_backend="svg", toolbar_location=None,
               x_range=Range1d(-3, 63.23), y_range=Range1d(-0.564, 8.573), outline_line_color=None,
               background_fill_color=None, border_fill_color=None)
    p.grid.visible = False
    p.title = Title(text="\n".join(TITLES[i]), text_font=FONT, text_font_size="43.7px", text_font_style="bold",
                    text_color="black", text_line_height=1.2, align="left", offset=19, standoff=30)
    for ax in (p.xaxis[0], p.yaxis[0]):
        ax.axis_line_width = 4
        ax.axis_line_color = "black"
        ax.major_tick_line_width = 3.5
        ax.major_tick_line_color = "black"
        ax.major_tick_out = 10
        ax.major_tick_in = 0
        ax.minor_tick_line_color = None
        ax.major_label_text_font = FONT
        ax.major_label_text_font_size = "30.5px"
        ax.major_label_text_color = "black"
        ax.axis_label_text_font = FONT
        ax.axis_label_text_font_size = "34px"
        ax.axis_label_text_font_style = "normal"
        ax.axis_label_text_color = "black"
    p.xaxis[0].ticker = FixedTicker(ticks=TICK_X)
    p.yaxis[0].ticker = FixedTicker(ticks=TICK_Y)
    p.xaxis[0].major_label_standoff = 10
    p.yaxis[0].major_label_standoff = 9
    if i == 0:
        p.yaxis[0].axis_label = "Depression"
        p.yaxis[0].axis_label_standoff = 8
    if i == 1:
        p.xaxis[0].axis_label = "Procrastination"
        p.xaxis[0].axis_label_standoff = 10

    p.image_rgba(image=[surface(p_grid, a_grid)], x=0, y=-0.02, dw=60, dh=8.02)
    p.multi_line([[c[0] for c in line] for line in contours],
                 [[c[1] for c in line] for line in contours],
                 line_color="black", line_width=1.7)

    xs, ys = [], []
    for dense in (dense_row0, dense_row1, dense_row2, dense_row3):
        for x, offs in dense.items():
            xs += [x] * len(offs)
            ys += offs
    for r in rows:
        xs += [c[0] for c in r]
        ys += [c[1] for c in r]
    p.scatter(xs, ys, size=15.5, fill_color="black", fill_alpha=0.5,
              line_color="black", line_alpha=0.55, line_width=1.5)
    return p


def make_legend():
    lg = figure(width=292, height=TOTAL_H, min_border_left=67, min_border_right=156,
                min_border_top=298, min_border_bottom=97, output_backend="svg", toolbar_location=None,
                x_range=Range1d(0, 1), y_range=Range1d(-0.844, 2.0815), outline_line_color=None, x_axis_location=None,
                y_axis_location="right", background_fill_color=None, border_fill_color=None,
                margin=(0, 0, 0, -90))
    lg.grid.visible = False
    grad = np.array([[k / 255] for k in range(256)])
    mapper = LinearColorMapper(palette=Plasma256, low=0, high=1)
    lg.image(image=[grad], x=0, y=0, dw=1, dh=1, color_mapper=mapper)
    lg.segment([0] * 3 + [0.797] * 3, [.25, .5, .75] * 2, [0.203] * 3 + [1] * 3, [.25, .5, .75] * 2,
               line_color="white", line_width=1.3)
    ax = lg.yaxis[0]
    ax.ticker = FixedTicker(ticks=list(LEGEND_TICKS))
    ax.major_label_overrides = dict(LEGEND_TICKS)
    ax.axis_line_color = None
    ax.major_tick_line_color = None
    ax.minor_tick_line_color = None
    ax.major_label_standoff = 17
    ax.major_label_text_font = FONT
    ax.major_label_text_font_size = "30.5px"
    ax.major_label_text_color = "black"
    lg.add_layout(Label(x=0.5, y=1.135, text="p\u0302", text_font=FONT, text_font_size="42px",
                        text_color="black", text_baseline="alphabetic"))
    return lg


page = row(make_panel(0), make_panel(1), make_panel(2), make_legend(), spacing=0)
open("out.html", "w").write(file_html(page, INLINE))
